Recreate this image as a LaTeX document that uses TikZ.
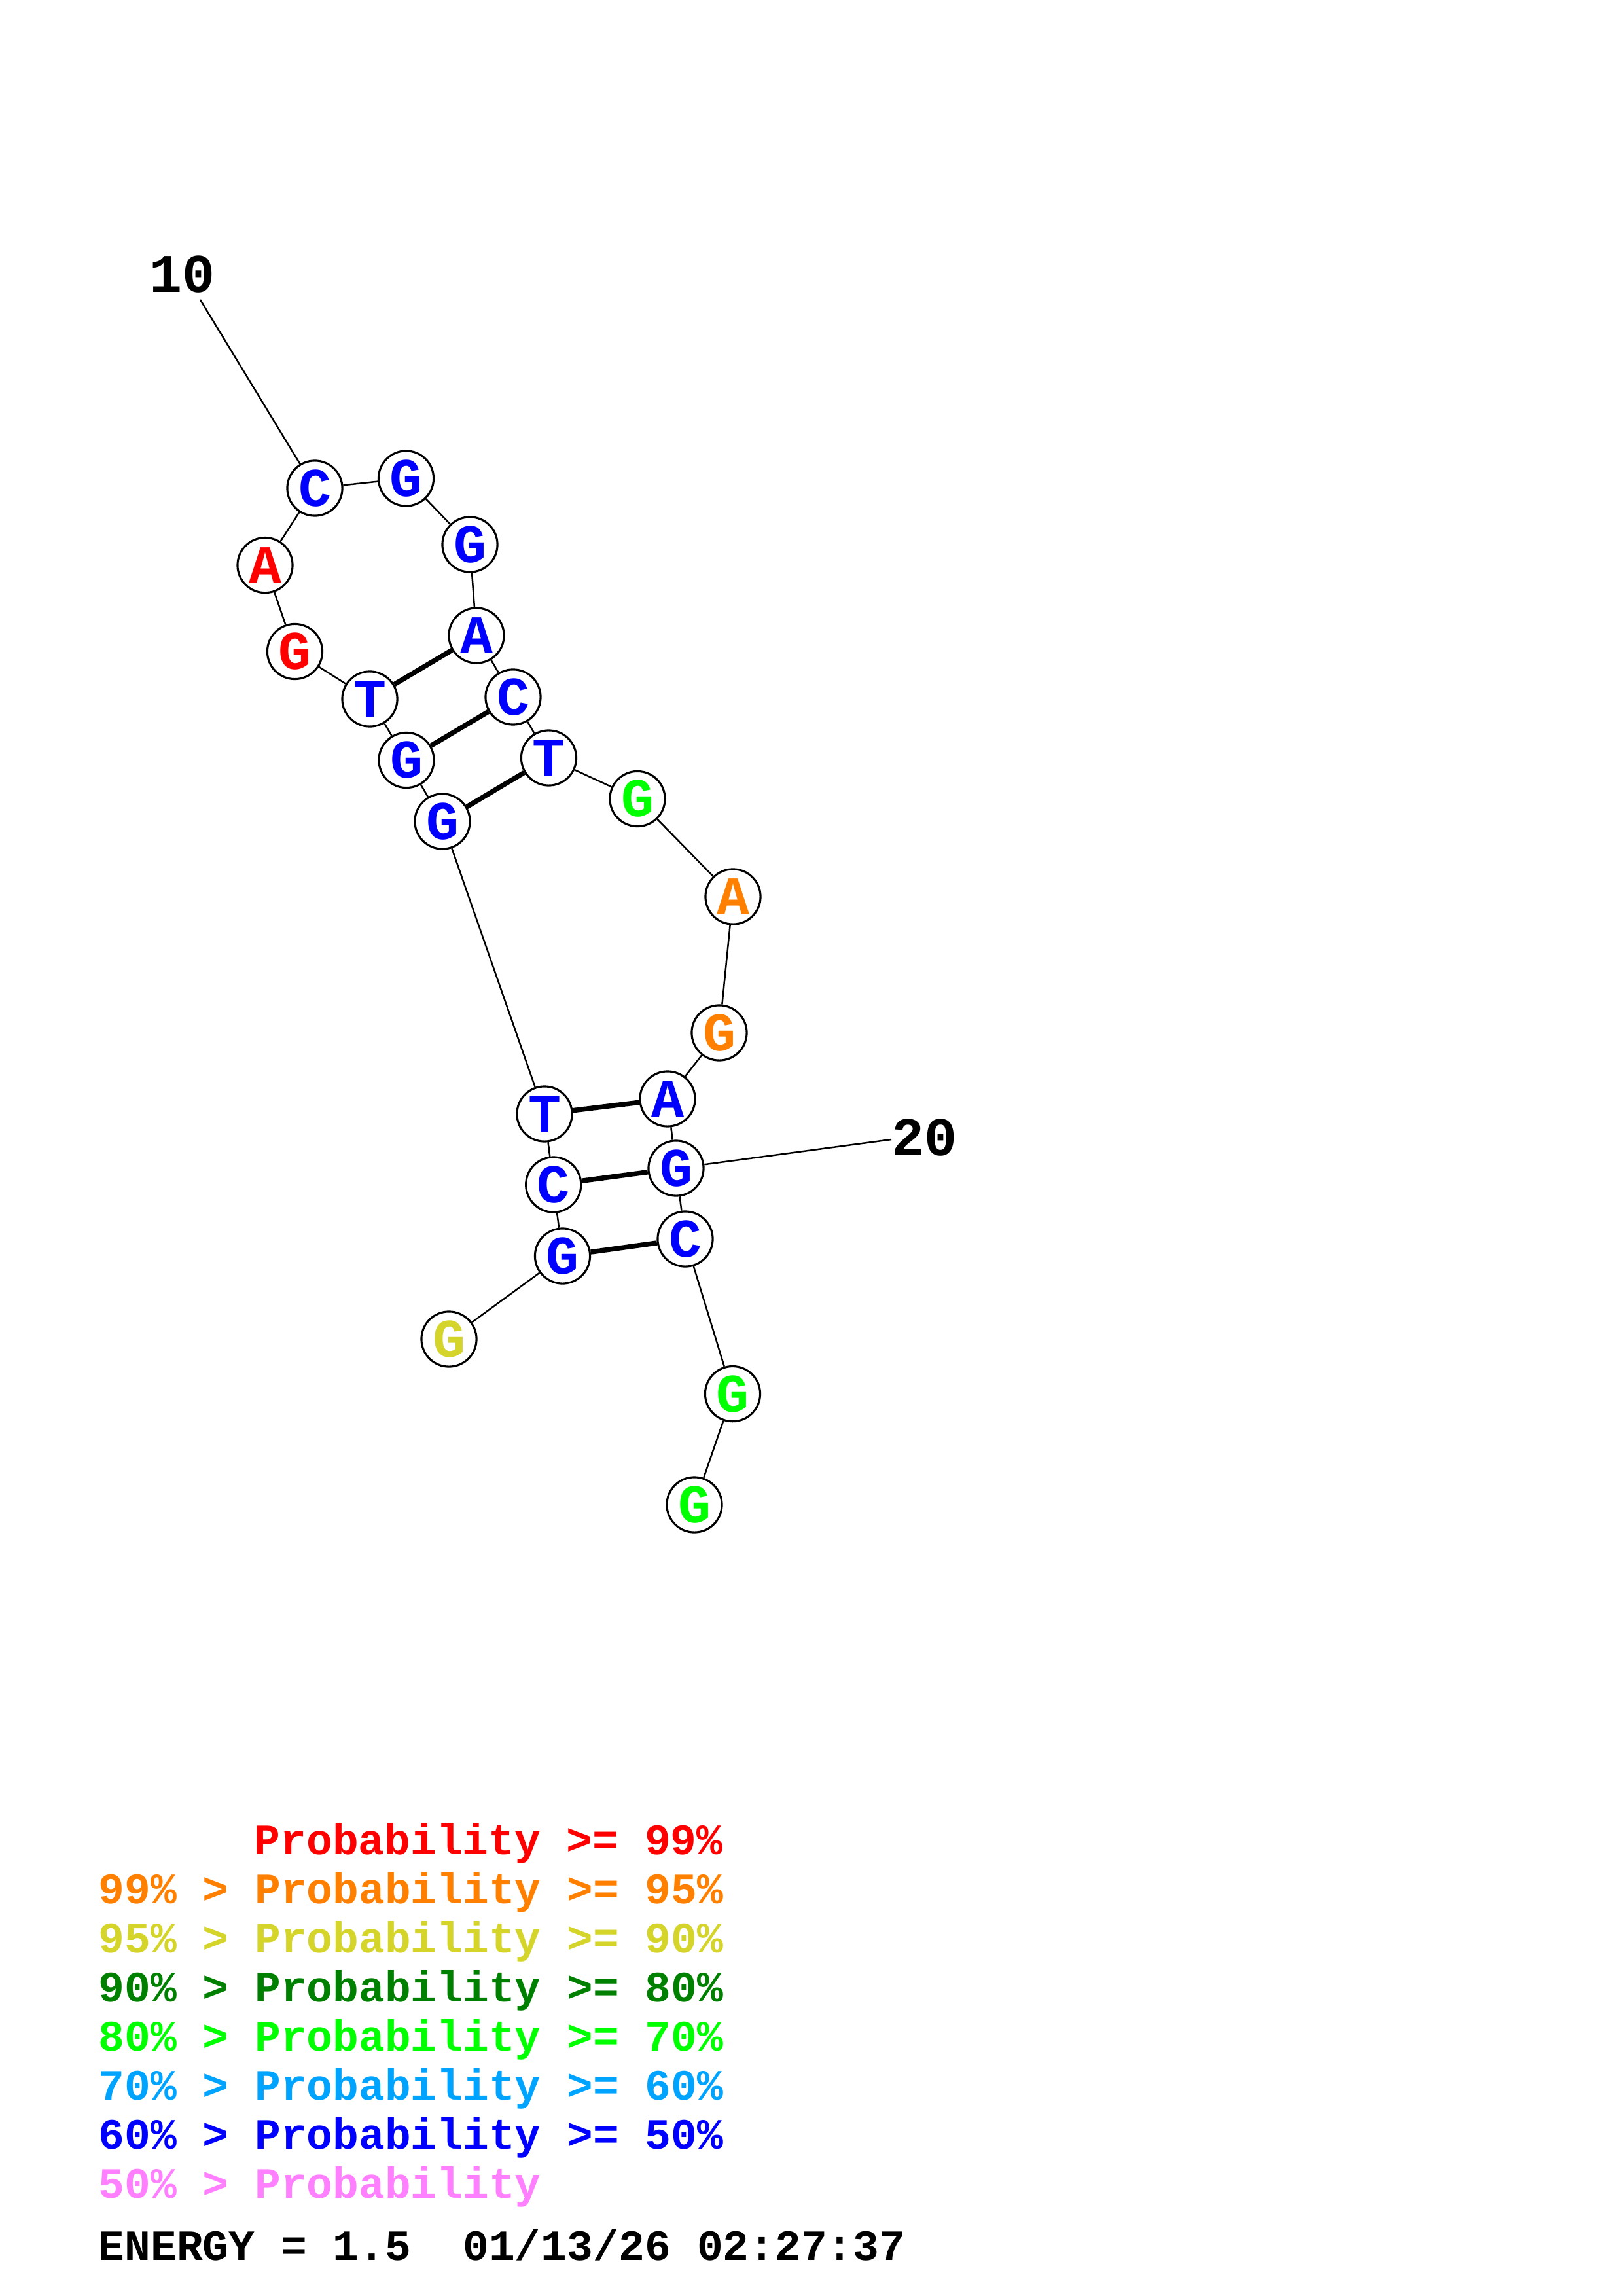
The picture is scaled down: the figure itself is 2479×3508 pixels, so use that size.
\documentclass[tikz,border=0pt]{standalone}
\usepackage{fontspec}
\setmonofont{Liberation Mono}
\usepackage{tikz}

\definecolor{probred}{RGB}{255,0,0}
\definecolor{proborange}{RGB}{255,128,0}
\definecolor{probyellow}{RGB}{212,212,42}
\definecolor{probdkgreen}{RGB}{0,128,0}
\definecolor{probgreen}{RGB}{0,255,0}
\definecolor{problblue}{RGB}{0,164,255}
\definecolor{probblue}{RGB}{0,0,255}
\definecolor{probpink}{RGB}{255,128,255}

\tikzset{
  nuc/.style={circle, draw, line width=0.75pt, fill=white, minimum size=20.2pt, inner sep=0pt,
    font=\ttfamily\bfseries\fontsize{20}{24}\selectfont},
  backbone/.style={line width=0.6pt},
  pairline/.style={line width=1.8pt},
  numlabel/.style={inner sep=0pt, font=\ttfamily\bfseries\fontsize{20}{24}\selectfont},
  legendrow/.style={anchor=base west, inner sep=0pt, font=\ttfamily\bfseries\fontsize{15.9}{19}\selectfont}
}

\begin{document}
\begin{tikzpicture}[x=0.24pt, y=-0.24pt]
\useasboundingbox (0,0) rectangle (2479,3508);

\node[nuc, text=probyellow] (n1) at (686,2046) {G};
\node[nuc, text=probblue] (n2) at (859.5,1919) {G};
\node[nuc, text=probblue] (n3) at (845.7,1810) {C};
\node[nuc, text=probblue] (n4) at (832,1702) {T};
\node[nuc, text=probblue] (n5) at (676,1255) {G};
\node[nuc, text=probblue] (n6) at (621,1161.5) {G};
\node[nuc, text=probblue] (n7) at (565,1068) {T};
\node[nuc, text=probred] (n8) at (450.5,995.5) {G};
\node[nuc, text=probred] (n9) at (405,863.6) {A};
\node[nuc, text=probblue] (n10) at (481,746) {C};
\node[nuc, text=probblue] (n11) at (620.5,731) {G};
\node[nuc, text=probblue] (n12) at (718,832) {G};
\node[nuc, text=probblue] (n13) at (728,971) {A};
\node[nuc, text=probblue] (n14) at (784,1065) {C};
\node[nuc, text=probblue] (n15) at (838.5,1158) {T};
\node[nuc, text=probgreen] (n16) at (974,1220.5) {G};
\node[nuc, text=proborange] (n17) at (1120,1370) {A};
\node[nuc, text=proborange] (n18) at (1099,1578) {G};
\node[nuc, text=probblue] (n19) at (1020,1679) {A};
\node[nuc, text=probblue] (n20) at (1033,1785) {G};
\node[nuc, text=probblue] (n21) at (1047,1893) {C};
\node[nuc, text=probgreen] (n22) at (1119.5,2129.6) {G};
\node[nuc, text=probgreen] (n23) at (1061,2299) {G};

\node[numlabel] (lab10) at (279,419) {10};
\coordinate (tick10) at (306,458);
\node[numlabel] (lab20) at (1412,1738) {20};
\coordinate (tick20) at (1362,1741);

\draw[backbone] (n1) -- (n2) -- (n3) -- (n4) -- (n5) -- (n6) -- (n7) -- (n8);
\draw[backbone] (n8) -- (n9) -- (n10) -- (n11) -- (n12) -- (n13) -- (n14) -- (n15);
\draw[backbone] (n15) -- (n16) -- (n17) -- (n18) -- (n19) -- (n20) -- (n21) -- (n22) -- (n23);
\draw[backbone] (tick10) -- (n10);
\draw[backbone] (tick20) -- (n20);

\draw[pairline] (n7) -- (n13);
\draw[pairline] (n6) -- (n14);
\draw[pairline] (n5) -- (n15);
\draw[pairline] (n4) -- (n19);
\draw[pairline] (n3) -- (n20);
\draw[pairline] (n2) -- (n21);

\node[legendrow, text=probred] (leg1) at (388,2833) {Probability >= 99\%};
\node[legendrow, text=proborange] (leg2) at (150,2908) {99\% > Probability >= 95\%};
\node[legendrow, text=probyellow] (leg3) at (150,2983) {95\% > Probability >= 90\%};
\node[legendrow, text=probdkgreen] (leg4) at (150,3058) {90\% > Probability >= 80\%};
\node[legendrow, text=probgreen] (leg5) at (150,3133) {80\% > Probability >= 70\%};
\node[legendrow, text=problblue] (leg6) at (150,3208) {70\% > Probability >= 60\%};
\node[legendrow, text=probblue] (leg7) at (150,3283) {60\% > Probability >= 50\%};
\node[legendrow, text=probpink] (leg8) at (150,3358) {50\% > Probability};
\node[legendrow] (energy) at (150,3453) {ENERGY = 1.5\ \ 01/13/26 02:27:37};
\end{tikzpicture}
\end{document}
